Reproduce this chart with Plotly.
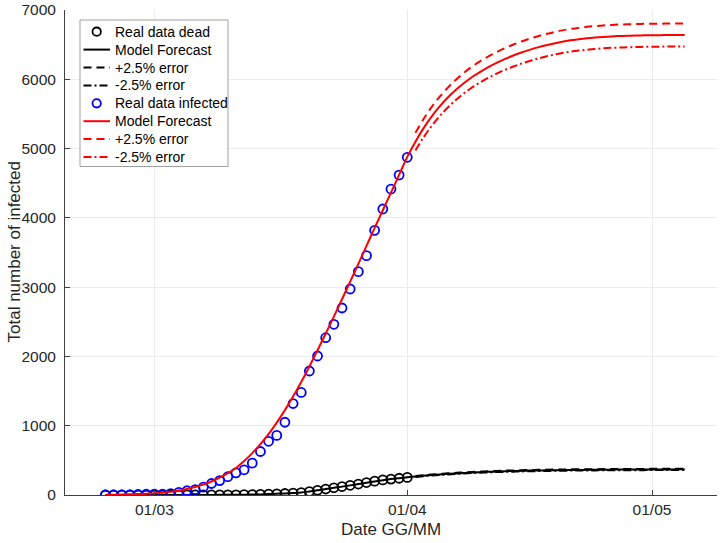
import plotly.graph_objects as go
import pandas as pd

# ---- data ----
data_start = "2020-02-24"
infected_real = [0, 2, 2, 3, 8, 11, 13, 13, 19, 37, 61, 79, 114, 166, 208, 264, 320, 364,
                 460, 628, 775, 860, 1050, 1320, 1480, 1790, 2006, 2270, 2464, 2699, 2973,
                 3223, 3454, 3820, 4128, 4416, 4618, 4874]
dead_real = [0, 0, 0, 0, 0, 0, 0, 0, 0, 0, 1, 1, 1, 1, 1, 2, 3, 5, 6, 9, 13, 17, 22, 28,
             35, 50, 68, 86, 104, 122, 140, 158, 180, 200, 218, 230, 242, 254]

model_start = "2020-02-24"
infected_model = [3, 5, 7, 10, 14, 19,
                  25, 34, 46, 63, 86, 115, 150, 195, 250, 315,
                  390, 490, 605, 735, 880, 1045, 1225, 1420, 1630, 1855,
                  2090, 2330, 2575, 2825, 3080, 3335, 3595, 3855, 4110, 4365,
                  4620, 4880, 5100, 5295, 5465, 5612, 5740, 5852, 5950, 6037,
                  6112, 6180, 6240, 6295, 6343, 6386, 6425, 6460, 6491, 6518,
                  6542, 6562, 6578, 6592, 6603, 6612, 6619, 6624, 6628, 6632,
                  6634, 6636, 6637, 6638, 6639, 6640]
dead_model = [0, 0, 0, 0, 0, 0,
              0, 0, 0, 0, 1, 1, 1, 1, 2, 2,
              3, 4, 6, 9, 13, 18, 23, 29, 37, 51,
              67, 85, 103, 121, 139, 158, 177, 196, 214, 230,
              243, 255, 267, 278, 288, 297, 305, 312, 319, 325,
              330, 335, 339, 343, 346, 349, 352, 354, 356, 358,
              360, 361, 362, 363, 364, 365, 366, 367, 367, 368,
              368, 369, 369, 369, 370, 370]

err_start = "2020-04-02"
infected_plus = [5228, 5427, 5602, 5752, 5884, 5998, 6099, 6188, 6265, 6335, 6396, 6452,
                 6502, 6546, 6586, 6622, 6653, 6681, 6706, 6726, 6742, 6757, 6768, 6777,
                 6784, 6790, 6794, 6798, 6800, 6802, 6803, 6804, 6805, 6806]
infected_minus = [4973, 5163, 5328, 5472, 5597, 5706, 5801, 5886, 5959, 6026, 6084, 6138,
                  6184, 6226, 6264, 6299, 6329, 6355, 6378, 6398, 6414, 6427, 6438, 6447,
                  6454, 6458, 6462, 6466, 6468, 6470, 6471, 6472, 6473, 6474]
dead_plus = [274, 285, 295, 304, 313, 320, 327, 333, 338, 343, 347, 352, 355, 358, 361, 363,
             365, 367, 369, 370, 371, 372, 373, 374, 375, 376, 376, 377, 377, 378, 378, 378,
             379, 379]
dead_minus = [260, 271, 281, 290, 297, 304, 311, 317, 322, 327, 331, 334, 337, 340, 343, 345,
              347, 349, 351, 352, 353, 354, 355, 356, 357, 358, 358, 359, 359, 360, 360, 360,
              361, 361]

tick_vals = ["2020-03-01", "2020-04-01", "2020-05-01"]
tick_text = ["01/03", "01/04", "01/05"]
x_range = ["2020-02-19 01:00", "2020-05-08 23:15"]

x_title = "Date GG/MM"
y_title = "Total number of infected"
legend_names = ["Real data dead", "Model Forecast", "+2.5% error", "-2.5% error",
                "Real data infected", "Model Forecast", "+2.5% error", "-2.5% error"]

# ---- dates ----
d_data = pd.date_range(data_start, periods=len(infected_real), freq="D")
d_model = pd.date_range(model_start, periods=len(infected_model), freq="D")
d_err = pd.date_range(err_start, periods=len(infected_plus), freq="D")

BLACK = "#000000"
RED = "#ff0000"
BLUE = "#0000ff"
DASH = "8px,5px"
DASHDOT = "8px,3px,2px,3px"
FONT = "Liberation Sans, Arial, sans-serif"

# styles: (kind, colour, dash)
styles = [("marker", BLACK, None), ("line", BLACK, "solid"), ("line", BLACK, DASH),
          ("line", BLACK, DASHDOT), ("marker", BLUE, None), ("line", RED, "solid"),
          ("line", RED, DASH), ("line", RED, DASHDOT)]

fig = go.Figure()
fig.add_trace(go.Scatter(x=d_data, y=dead_real, mode="markers", name=legend_names[0],
                         marker=dict(symbol="circle-open", size=9, color=BLACK,
                                     line=dict(width=1.8, color=BLACK))))
fig.add_trace(go.Scatter(x=d_model, y=dead_model, mode="lines", name=legend_names[1],
                         line=dict(color=BLACK, width=2, shape="spline")))
fig.add_trace(go.Scatter(x=d_err, y=dead_plus, mode="lines", name=legend_names[2],
                         line=dict(color=BLACK, width=2, dash=DASH, shape="spline")))
fig.add_trace(go.Scatter(x=d_err, y=dead_minus, mode="lines", name=legend_names[3],
                         line=dict(color=BLACK, width=2, dash=DASHDOT, shape="spline")))
fig.add_trace(go.Scatter(x=d_data, y=infected_real, mode="markers", name=legend_names[4],
                         marker=dict(symbol="circle-open", size=9, color=BLUE,
                                     line=dict(width=1.8, color=BLUE))))
fig.add_trace(go.Scatter(x=d_model, y=infected_model, mode="lines", name=legend_names[5],
                         line=dict(color=RED, width=2, shape="spline")))
fig.add_trace(go.Scatter(x=d_err, y=infected_plus, mode="lines", name=legend_names[6],
                         line=dict(color=RED, width=2, dash=DASH, shape="spline")))
fig.add_trace(go.Scatter(x=d_err, y=infected_minus, mode="lines", name=legend_names[7],
                         line=dict(color=RED, width=2, dash=DASHDOT, shape="spline")))

# ---- figure geometry ----
W, H = 722, 543
ML, MR, MT, MB = 65, 5, 10, 48
PW, PH = W - ML - MR, H - MT - MB


def px(xf):
    return (xf - ML) / PW


def py(yf):
    return (MT + PH - yf) / PH


# ---- hand-built legend box (compact MATLAB-like spacing) ----
shapes = [dict(type="rect", xref="paper", yref="paper",
               x0=px(80), x1=px(228), y0=py(166.5), y1=py(20),
               line=dict(color="#a0a0a0", width=1), fillcolor="white", layer="above")]
annotations = []
row0, step = 31.7, 17.9
for i, (name, (kind, col, dash)) in enumerate(zip(legend_names, styles)):
    yc = row0 + i * step
    if kind == "line":
        shapes.append(dict(type="line", xref="paper", yref="paper",
                           x0=px(83.5), x1=px(110), y0=py(yc), y1=py(yc),
                           line=dict(color=col, width=2, dash=dash), layer="above"))
    else:
        shapes.append(dict(type="circle", xref="paper", yref="paper",
                           xsizemode="pixel", ysizemode="pixel",
                           xanchor=px(96.7), yanchor=py(yc),
                           x0=-4.2, x1=4.2, y0=-4.2, y1=4.2,
                           line=dict(color=col, width=1.8), layer="above"))
    annotations.append(dict(text=name, xref="paper", yref="paper", x=px(113),
                            y=py(yc), xanchor="left", yanchor="middle", showarrow=False,
                            font=dict(family=FONT, size=14, color="#000000")))

# y-axis title placed as a rotated annotation (MATLAB position)
annotations.append(dict(text=y_title, xref="paper", yref="paper", x=px(14), y=0.5,
                        xanchor="center", yanchor="middle", textangle=-90,
                        showarrow=False,
                        font=dict(family=FONT, size=17, color="#262626")))

axis_common = dict(
    showgrid=True, gridcolor="#ebebeb", gridwidth=1,
    ticks="inside", ticklen=5, tickcolor="#404040",
    showline=True, linecolor="#404040", linewidth=1, mirror=False,
    zeroline=False, automargin=False,
    tickfont=dict(family=FONT, size=15.5, color="#262626"),
)

fig.update_layout(
    width=W, height=H,
    margin=dict(l=ML, r=MR, t=MT, b=MB),
    paper_bgcolor="white", plot_bgcolor="white",
    font=dict(family=FONT, color="#262626"),
    xaxis=dict(type="date", range=x_range, tickvals=tick_vals, ticktext=tick_text,
               title=dict(text=x_title, font=dict(size=17), standoff=6),
               **axis_common),
    yaxis=dict(range=[0, 7000], dtick=1000, tickformat="d", ticklabelstandoff=5,
               **axis_common),
    shapes=shapes,
    annotations=annotations,
    showlegend=False,
)

fig.write_html("out.html", config={"displayModeBar": False},
               post_script="document.body.style.margin='0';")
